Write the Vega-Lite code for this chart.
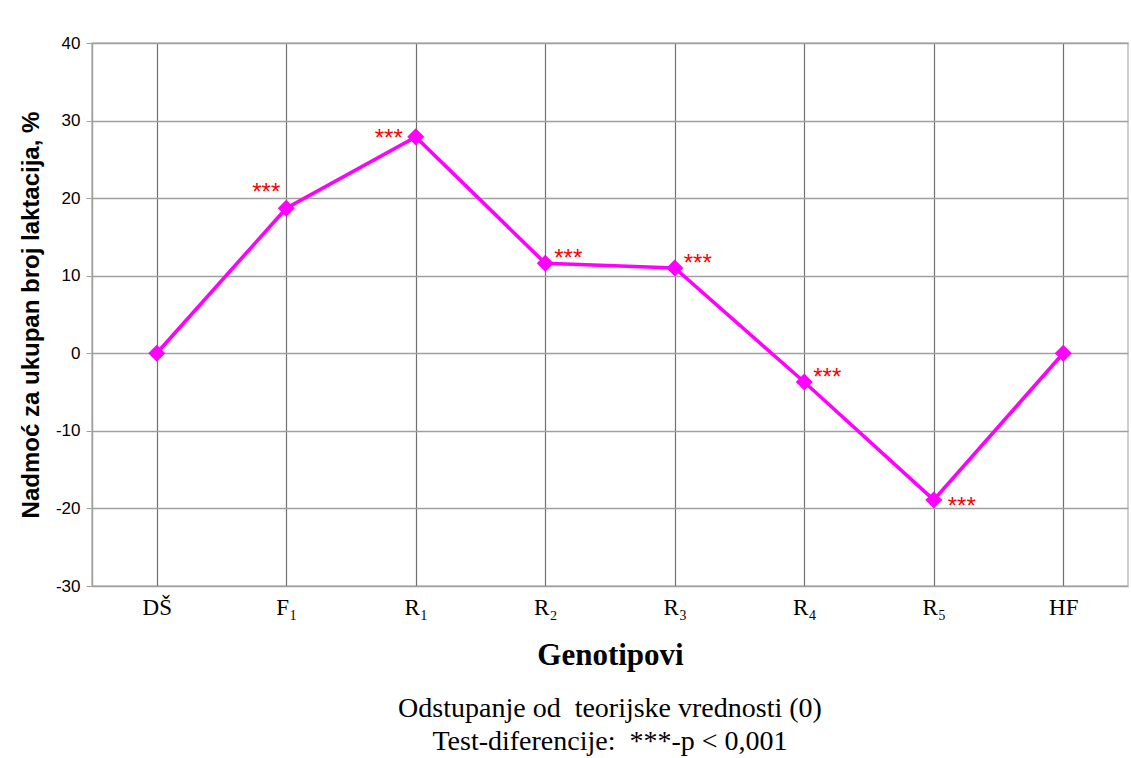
{
  "$schema": "https://vega.github.io/schema/vega-lite/v6.json",
  "width": 1036,
  "height": 543,
  "autosize": "none",
  "padding": {"left": 92, "top": 43, "right": 3, "bottom": 172},
  "background": "white",
  "config": {
    "view": {"stroke": "#c0c0c0", "strokeWidth": 1.5},
    "font": "Liberation Sans"
  },
  "title": {
    "text": ["Odstupanje od\u00a0 teorijske vrednosti (0)", "Test-diferencije:\u00a0 ***-p < 0,001"],
    "orient": "bottom",
    "anchor": "middle",
    "font": "Liberation Serif",
    "fontSize": 28,
    "fontWeight": "normal",
    "color": "#000000",
    "lineHeight": 33,
    "offset": 25
  },
  "data": {
    "values": [
      {"genotip": "DŠ", "nadmoc": 0, "sig": ""},
      {"genotip": "F₁", "nadmoc": 18.7, "sig": "***"},
      {"genotip": "R₁", "nadmoc": 27.9, "sig": "***"},
      {"genotip": "R₂", "nadmoc": 11.6, "sig": "***"},
      {"genotip": "R₃", "nadmoc": 11.0, "sig": "***"},
      {"genotip": "R₄", "nadmoc": -3.7, "sig": "***"},
      {"genotip": "R₅", "nadmoc": -18.9, "sig": "***"},
      {"genotip": "HF", "nadmoc": 0, "sig": ""}
    ]
  },
  "encoding": {
    "x": {
      "field": "genotip",
      "type": "nominal",
      "sort": null,
      "scale": {"type": "point", "padding": 0.5},
      "axis": {
        "title": "Genotipovi",
        "titleFont": "Liberation Serif",
        "titleFontSize": 31,
        "titleFontWeight": "bold",
        "titleColor": "#000000",
        "titlePadding": 21,
        "labelFont": "Liberation Serif",
        "labelFontSize": 23,
        "labelColor": "#000000",
        "labelPadding": 10,
        "labelAngle": 0,
        "ticks": false,
        "domain": false,
        "grid": true,
        "gridColor": "#707070",
        "gridWidth": 1.2
      }
    },
    "y": {
      "field": "nadmoc",
      "type": "quantitative",
      "scale": {"domain": [-30, 40], "nice": false, "zero": false},
      "axis": {
        "title": "Nadmoć za ukupan broj laktacija, %",
        "titleFont": "Liberation Sans",
        "titleFontSize": 24,
        "titleFontWeight": "bold",
        "titleColor": "#000000",
        "titlePadding": 12,
        "values": [-30, -20, -10, 0, 10, 20, 30, 40],
        "labelExpr": "'' + datum.value",
        "labelFont": "Liberation Sans",
        "labelFontSize": 17,
        "labelColor": "#000000",
        "labelPadding": 6,
        "tickSize": 6,
        "tickColor": "#a0a0a0",
        "domainColor": "#a0a0a0",
        "domainWidth": 1.5,
        "grid": true,
        "gridColor": "#a0a0a0",
        "gridWidth": 1.5
      }
    }
  },
  "layer": [
    {
      "mark": {"type": "line", "color": "#ff00ff", "strokeWidth": 3.6}
    },
    {
      "mark": {"type": "point", "shape": "diamond", "filled": true, "color": "#ff00ff", "size": 290, "opacity": 1}
    },
    {
      "transform": [{"filter": "datum.genotip == 'F₁'"}],
      "mark": {"type": "text", "color": "#ff0000", "font": "Liberation Sans", "fontSize": 24, "baseline": "middle", "align": "center", "dx": -20, "dy": -15},
      "encoding": {"text": {"field": "sig"}}
    },
    {
      "transform": [{"filter": "datum.genotip == 'R₁'"}],
      "mark": {"type": "text", "color": "#ff0000", "font": "Liberation Sans", "fontSize": 24, "baseline": "middle", "align": "center", "dx": -27, "dy": 2},
      "encoding": {"text": {"field": "sig"}}
    },
    {
      "transform": [{"filter": "indexof(['R₂','R₃','R₄'], datum.genotip) >= 0"}],
      "mark": {"type": "text", "color": "#ff0000", "font": "Liberation Sans", "fontSize": 24, "baseline": "middle", "align": "center", "dx": 23, "dy": -4},
      "encoding": {"text": {"field": "sig"}}
    },
    {
      "transform": [{"filter": "datum.genotip == 'R₅'"}],
      "mark": {"type": "text", "color": "#ff0000", "font": "Liberation Sans", "fontSize": 24, "baseline": "middle", "align": "center", "dx": 28, "dy": 7},
      "encoding": {"text": {"field": "sig"}}
    }
  ]
}
